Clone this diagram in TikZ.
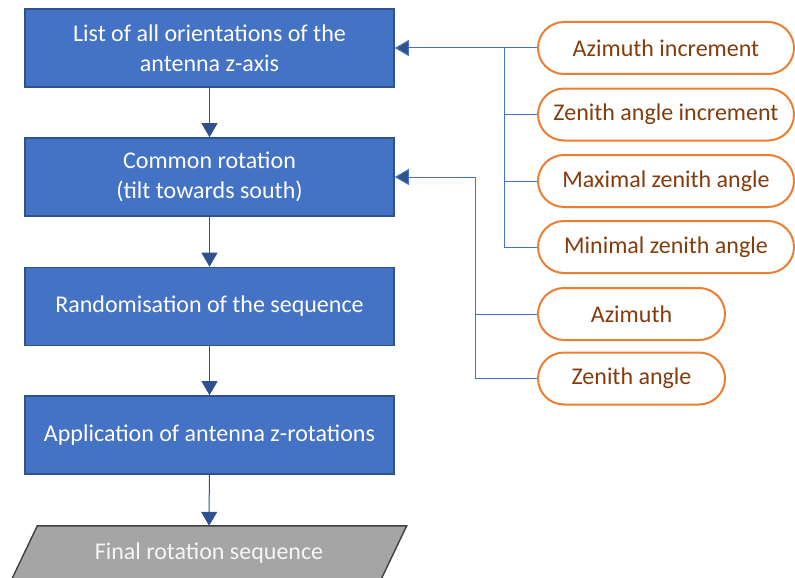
\documentclass[tikz,border=0pt]{standalone}
\usepackage{fontspec}
\setmainfont{Carlito}
\usetikzlibrary{arrows.meta,shapes.misc,calc}
\definecolor{boxblue}{HTML}{4472C4}
\definecolor{boxedge}{HTML}{2F528F}
\definecolor{pillorange}{HTML}{ED7D31}
\definecolor{pilltext}{HTML}{843C0C}
\definecolor{outgray}{HTML}{A5A5A5}
\definecolor{outedge}{HTML}{404040}
\tikzset{
  stepbox/.style={draw=boxedge, line width=1.6pt, fill=boxblue, text=white,
    minimum width=369pt, minimum height=78pt, align=center,
    font=\fontsize{24}{30}\selectfont},
  inpill/.style={draw=pillorange, line width=2pt, fill=white, text=pilltext,
    rounded rectangle, minimum height=52pt, inner xsep=0pt,
    font=\fontsize{24}{28}\selectfont},
  flowarrow/.style={draw=boxedge, line width=1pt,
    -{Triangle[width=16pt,length=14pt]}},
  busline/.style={draw=boxblue, line width=1pt},
  busarrow/.style={busline, -{Triangle[width=16pt,length=14pt,fill=boxedge]}},
}
\begin{document}
\begin{tikzpicture}[x=1pt,y=-1pt]
  \clip (0,0) rectangle (795,578);
  \fill[white] (0,0) rectangle (795,578);

  % main processing chain
  \node[stepbox] (list) at (209.5,48) {List of all orientations of the\\antenna z-axis};
  \node[stepbox] (common) at (209.5,177) {Common rotation\\(tilt towards south)};
  \node[stepbox] (random) at (209.5,306.5) {Randomisation of the sequence};
  \node[stepbox] (apply) at (209.5,435) {Application of antenna z-rotations};

  % output parallelogram
  \node[minimum width=369pt, minimum height=54pt, inner sep=0pt] (final) at (209,553) {};
  \path[fill=outgray, draw=outedge, line width=1.4pt]
    ($(final.north west)+(13,0)$) -- ($(final.north east)+(13,0)$) --
    ($(final.south east)+(-13,0)$) -- ($(final.south west)+(-13,0)$) -- cycle;
  \node[text=white!93!gray, font=\fontsize{24}{28}\selectfont] (finaltext) at (final.center) {Final rotation sequence};

  \draw[flowarrow] (list) -- (common);
  \draw[flowarrow] (common) -- (random);
  \draw[flowarrow] (random) -- (apply);
  \draw[flowarrow] (apply) -- (final);

  % input parameters
  \node[inpill, minimum width=256pt] (azinc) at (666,48) {Azimuth increment};
  \node[inpill, minimum width=256pt] (zeninc) at (666,114.5) {Zenith angle increment};
  \node[inpill, minimum width=256pt] (zenmax) at (666,181) {Maximal zenith angle};
  \node[inpill, minimum width=256pt] (zenmin) at (666,247) {Minimal zenith angle};
  \node[inpill, minimum width=187pt] (az) at (631.5,314) {Azimuth};
  \node[inpill, minimum width=187pt] (zen) at (631.5,378.5) {Zenith angle};

  % bus towards the orientation list
  \coordinate (busA) at (504,0);
  \draw[busarrow] (azinc.west) -- (list.east);
  \draw[busline] (busA |- azinc.west) -- (busA |- zenmin.west) -- (zenmin.west);
  \draw[busline] (busA |- zeninc.west) -- (zeninc.west);
  \draw[busline] (busA |- zenmax.west) -- (zenmax.west);

  % bus towards the common rotation
  \coordinate (busB) at (475,0);
  \draw[busarrow] (busB |- common.east) -- (common.east);
  \draw[busline] (busB |- common.east) -- (busB |- zen.west) -- (zen.west);
  \draw[busline] (busB |- az.west) -- (az.west);
\end{tikzpicture}
\end{document}
